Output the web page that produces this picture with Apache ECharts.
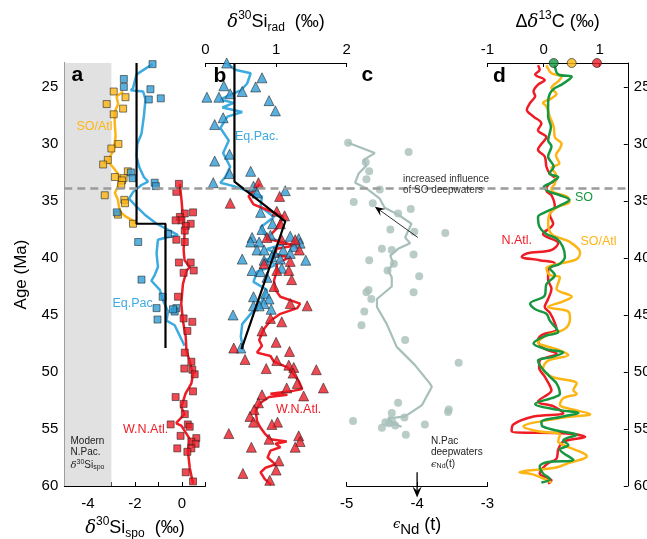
<!DOCTYPE html>
<html><head><meta charset="utf-8">
<script src="https://cdn.jsdelivr.net/npm/echarts@6/dist/echarts.min.js"></script>
<style>html,body{margin:0;padding:0;background:#fff}#c{width:647px;height:539px}</style>
</head><body><div id="c"></div>
<script>
// ---- tick values ----
const ageTicks = [25,30,35,40,45,50,55,60];
const spoTicks = [-5,-4,-3,-2,-1,0,1];
const spoLabels = [-4,-2,0];
const radTicks = [0,1,2];
const ndTicks = [-5,-4,-3];
const dcTicks = [-1,0,1];
const soLineAge = 33.85;
const modernBand = [-5,-3];

// ---- panel a : [age (Ma), d30Si_spo] ----
const aSoAtlPts = [[25.4,-2.9],[25.9,-2.4],[26.5,-3.2],[26.9,-2.5],[27.4,-2.9],[30.0,-2.7],[30.4,-3.0],[31.4,-3.15],[31.8,-3.35],[32.4,-2.3],[32.9,-2.85],[33.0,-2.48],[33.2,-2.55],[33.6,-2.58],[34.5,-3.28],[34.9,-2.45],[35.2,-2.42],[36.2,-2.72],[37.0,-2.08]];
const aSoAtlLine = [[25.4,-2.5],[25.85,-2.78],[26.5,-2.71],[27.2,-2.86],[28.1,-2.86],[29.3,-2.82],[30.5,-2.9],[31.1,-3.05],[31.6,-3.12],[32.0,-2.95],[32.4,-2.8],[32.9,-2.62],[33.3,-2.68],[33.7,-2.72],[34.3,-2.85],[34.9,-2.72],[35.5,-2.68],[36.0,-2.6],[36.4,-2.37],[36.7,-2.1],[37.0,-1.94]];
const aEqPacPts = [[23.0,-1.25],[24.3,-2.47],[25.0,-2.47],[25.2,-1.34],[26.0,-0.9],[26.1,-1.41],[32.5,-2.17],[33.0,-2.1],[33.4,-1.16],[33.7,-1.11],[36.0,-2.77],[37.9,-0.59],[38.6,-1.86],[41.9,-1.72],[43.4,-0.82],[44.4,-1.08],[45.4,-1.04],[44.4,-0.24],[44.7,-0.31],[44.5,-0.38]];
const aEqPacLine = [[23.0,-1.25],[23.9,-1.93],[25.1,-2.08],[25.3,-2.17],[25.4,-1.65],[26.1,-1.55],[27.6,-1.62],[29.1,-1.72],[30.0,-1.9],[31.1,-1.93],[32.0,-1.82],[32.9,-1.62],[33.3,-1.44],[33.6,-1.72],[34.2,-2.07],[34.8,-2.25],[35.5,-1.93],[36.2,-1.58],[37.0,-1.08],[37.6,-0.52],[38.0,-0.17],[38.2,-0.66],[38.4,-1.02],[39.6,-1.08],[40.8,-1.02],[41.5,-1.16],[42.0,-1.3],[42.8,-0.94],[43.7,-0.81],[44.7,-0.59],[45.5,-0.66],[45.9,-0.31],[47.7,0.11]];
const aWNAtlPts = [[33.5,-0.13],[34.2,-0.24],[36.0,0.47],[36.1,0.12],[36.4,-0.09],[36.7,-0.02],[36.7,-0.27],[37.0,0.37],[37.2,0.16],[37.6,0.12],[38.4,-0.24],[38.6,0.12],[40.4,-0.13],[40.4,0.37],[41.1,0.5],[41.3,0.07],[43.4,-0.17],[45.3,0.07],[45.6,0.44],[46.4,0.23],[48.3,0.12],[49.1,0.4],[49.7,0.1],[49.8,0.44],[50.2,0.54],[51.7,0.47],[52.2,-0.27],[52.8,0.07],[53.7,0.12],[54.6,-0.48],[54.6,0.25],[54.8,0.33],[55.6,-0.06],[55.8,0.61],[56.1,0.4],[56.3,0.58],[56.7,-0.2],[56.7,0.4],[57.0,0.23],[58.8,0.16],[59.6,0.47]];
const aWNAtlLine = [[33.5,-0.09],[34.9,-0.02],[36.4,0.04],[37.9,0.11],[39.3,0.07],[40.2,0.11],[40.8,0.33],[41.1,0.2],[42.3,0.04],[44.0,-0.03],[45.5,0.04],[46.9,0.16],[48.1,0.19],[49.3,0.36],[50.2,0.47],[51.0,0.4],[51.9,0.15],[53.1,-0.03],[53.7,0.11],[54.3,-0.17],[54.5,-0.24],[54.7,-0.03],[55.6,0.25],[55.9,0.33],[56.9,0.25],[58.4,0.33],[59.8,0.47]];
const aStep = [[22.9,-1.93],[37.0,-1.93],[37.0,-0.7],[47.9,-0.7]];

// ---- panel b : [age, d30Si_rad] ----
const bEqPacPts = [[22.9,0.3],[24.2,0.8],[24.9,0.26],[25.0,0.71],[25.4,0.52],[25.6,0.35],[25.9,0.02],[25.9,0.19],[26.2,0.9],[27.1,0.99],[27.7,0.25],[28.3,0.13],[30.9,0.34],[31.5,0.13],[32.4,0.64],[32.6,0.34],[33.4,0.11],[33.7,0.68],[34.1,1.13],[34.3,0.73],[36.0,0.78],[37.0,0.95],[37.5,0.8],[38.0,0.92],[38.1,1.2],[38.2,0.66],[38.3,1.32],[38.6,0.64],[38.6,0.76],[38.7,1.34],[39.0,1.25],[39.3,0.73],[39.3,0.83],[39.3,1.1],[39.5,0.97],[39.6,1.2],[39.9,0.94],[40.1,0.52],[40.1,1.06],[40.2,0.83],[40.2,1.42],[40.9,1.08],[41.1,0.66],[41.2,0.78],[41.7,0.87],[43.1,0.85],[43.4,0.68],[43.6,0.9],[44.0,0.83],[44.2,0.68],[44.2,0.76],[44.5,0.93],[45.0,0.39],[47.9,0.5]];
const bEqPacLine = [[22.9,0.3],[23.5,0.42],[23.8,0.64],[24.7,0.59],[25.3,0.5],[25.7,0.35],[26.1,0.21],[26.4,0.4],[26.8,0.24],[27.2,0.52],[27.6,0.31],[28.6,0.21],[29.7,0.33],[30.8,0.25],[32.0,0.35],[32.9,0.28],[33.4,0.21],[33.7,0.4],[34.0,0.54],[34.3,0.66],[34.6,0.8],[35.5,0.78],[36.4,0.97],[37.3,0.78],[38.2,0.87],[38.7,1.16],[39.2,0.87],[39.8,1.06],[40.2,0.83],[40.6,1.01],[41.2,0.73],[42.1,0.68],[42.8,0.87],[44.0,0.78],[44.9,0.64],[45.8,0.52],[46.9,0.5],[47.9,0.53]];
const bWNAtlPts = [[33.4,0.75],[34.6,1.05],[35.2,0.35],[35.9,1.01],[36.3,1.12],[37.0,1.06],[38.2,0.87],[38.4,1.08],[38.4,1.27],[39.3,1.33],[40.3,1.2],[40.5,0.83],[41.1,1.01],[41.1,1.18],[41.9,1.22],[42.5,0.97],[44.0,1.2],[44.2,1.44],[45.3,0.92],[45.6,1.08],[46.4,0.8],[47.4,1.0],[47.9,0.4],[48.2,1.19],[48.9,0.56],[49.0,1.01],[49.4,1.18],[49.6,1.25],[49.7,0.86],[49.8,1.57],[50.1,1.24],[51.0,1.3],[51.4,1.15],[51.4,1.67],[52.0,0.8],[52.1,1.39],[52.7,0.75],[53.3,0.69],[53.9,0.63],[54.4,0.68],[54.4,1.02],[54.6,0.94],[55.4,0.33],[55.6,1.32],[55.9,0.9],[56.1,1.34],[56.6,0.65],[56.6,1.27],[57.8,1.04],[58.6,1.0],[58.9,0.53],[59.5,0.91]];
const bWNAtlLine = [[33.5,0.77],[34.6,0.61],[35.3,0.68],[35.9,0.92],[36.4,1.1],[37.4,1.01],[38.3,0.87],[38.6,1.06],[38.9,1.27],[39.2,1.01],[39.8,0.97],[39.9,1.2],[40.5,1.01],[41.1,1.01],[42.0,0.97],[42.8,0.99],[43.4,1.06],[44.0,1.34],[44.4,1.3],[44.9,1.06],[45.5,0.92],[46.2,0.83],[47.2,0.76],[47.7,0.8],[48.3,0.73],[48.6,0.92],[49.1,0.97],[49.6,1.16],[50.2,1.25],[50.8,1.32],[51.5,1.37],[51.7,1.2],[51.9,0.92],[52.0,1.16],[52.2,0.9],[52.7,0.78],[53.4,0.71],[54.3,0.73],[54.9,0.78],[55.4,0.84],[55.9,0.92],[56.1,1.15],[56.3,0.99],[56.6,1.06],[56.9,0.92],[57.5,0.88],[58.1,0.99],[58.4,0.85],[58.8,0.78],[59.4,0.84],[59.9,0.93]];
const bStep = [[22.9,0.41],[33.3,0.41],[36.8,1.13],[48.0,0.51]];

// ---- panel c : [age, eNd(t)] ----
const cNdPts = [[29.9,-4.98],[30.7,-4.12],[31.6,-4.73],[32.4,-4.68],[33.1,-4.72],[34.0,-4.53],[35.1,-4.9],[35.2,-4.63],[35.7,-4.09],[36.1,-4.27],[37.5,-4.38],[37.7,-4.04],[37.8,-3.6],[39.2,-4.5],[39.3,-4.36],[39.7,-4.05],[40.2,-4.68],[40.5,-4.33],[41.1,-4.42],[41.6,-3.97],[42.8,-4.69],[43.0,-4.72],[43.0,-4.05],[43.6,-4.65],[44.7,-4.75],[45.9,-4.79],[47.2,-4.17],[49.2,-3.41],[52.7,-4.27],[53.3,-3.55],[53.5,-3.56],[53.6,-4.36],[54.0,-4.18],[54.3,-4.91],[54.4,-4.45],[54.5,-4.4],[54.4,-4.35],[54.7,-4.31],[54.6,-3.89],[54.9,-4.5],[55.5,-4.16]];
const cNdLine = [[29.9,-4.98],[30.8,-4.6],[31.4,-4.76],[31.9,-4.72],[32.6,-4.83],[33.4,-4.88],[33.9,-4.72],[34.8,-4.53],[35.6,-4.46],[36.2,-4.27],[37.0,-4.08],[38.2,-4.17],[38.7,-4.1],[39.2,-4.27],[39.8,-4.38],[40.5,-4.34],[41.1,-4.41],[41.7,-4.36],[42.5,-4.36],[43.6,-4.57],[44.3,-4.57],[45.8,-4.43],[47.8,-4.29],[49.4,-4.03],[51.0,-3.82],[51.3,-3.79],[52.9,-3.93],[53.9,-4.17],[54.0,-4.31],[54.0,-4.41],[54.4,-4.36],[54.7,-4.27],[54.8,-4.22]];
const cArrowSO = [[38.2,-3.99],[35.5,-4.6]];
const cArrowNPac = [[58.8,-4.0],[61.0,-4.0]];

// ---- panel d : [age, Delta d13C] ----
const dSO = [[23.1,0.2],[23.9,0.26],[24.1,0.5],[24.4,0.44],[24.8,0.32],[25.1,0.2],[25.6,0.11],[26.4,0.08],[27.6,0.08],[28.5,0.13],[29.7,0.08],[30.2,0.14],[31.1,0.08],[32.0,0.18],[32.6,0.1],[32.9,0.26],[33.4,0.13],[33.8,0.0],[34.2,0.11],[34.5,0.29],[34.9,0.46],[35.4,0.29],[36.0,0.02],[36.4,-0.1],[37.3,-0.07],[37.9,0.05],[38.3,0.23],[39.0,0.34],[39.9,0.38],[40.5,0.29],[40.9,0.11],[41.5,0.2],[42.3,0.05],[43.3,0.02],[44.0,-0.24],[44.5,-0.15],[44.9,0.05],[45.5,0.11],[46.5,0.26],[46.8,0.05],[47.5,-0.18],[48.0,0.05],[48.3,0.35],[48.7,0.14],[49.0,-0.1],[49.6,-0.04],[50.4,0.11],[51.0,0.23],[51.9,0.29],[52.2,0.2],[52.8,-0.15],[53.3,0.23],[53.6,0.62],[53.9,0.35],[54.4,-0.04],[54.8,-0.01],[55.2,0.29],[55.5,0.59],[56.0,0.35],[56.4,0.44],[56.8,0.29],[57.7,0.53],[57.9,0.08],[58.3,-0.07],[58.9,-0.01],[59.4,0.11],[59.7,-0.04]];
const dSOAtl = [[23.1,0.05],[23.8,0.14],[24.1,0.32],[24.5,0.26],[25.1,0.14],[25.6,0.23],[26.0,0.14],[26.4,-0.01],[26.7,0.05],[27.6,0.11],[28.5,0.18],[29.4,0.2],[30.0,0.32],[30.4,0.29],[31.0,0.22],[31.7,0.28],[32.1,0.14],[32.7,0.22],[33.5,0.2],[33.9,0.14],[34.3,0.2],[34.6,0.41],[35.1,0.46],[35.5,0.26],[36.1,0.11],[37.0,0.08],[37.9,0.14],[38.3,0.32],[38.6,0.47],[39.5,0.65],[40.1,0.59],[40.5,0.29],[40.9,0.05],[41.5,0.11],[41.7,0.29],[42.7,0.23],[43.4,0.5],[43.8,0.35],[44.3,0.08],[44.7,0.44],[45.3,0.47],[46.2,0.38],[46.8,0.05],[47.4,-0.1],[48.0,0.23],[48.5,0.44],[49.0,0.08],[49.7,-0.01],[50.4,0.14],[51.0,0.59],[51.6,0.53],[51.9,0.59],[52.3,0.35],[52.9,0.29],[53.2,0.44],[53.7,0.83],[54.0,0.35],[54.8,-0.36],[55.2,-0.1],[55.5,0.29],[56.1,0.26],[56.4,0.35],[57.4,0.77],[58.0,0.44],[58.4,0.2],[58.8,-0.43],[59.0,-0.18],[59.7,0.14]];
const dNAtl = [[23.1,-0.1],[23.5,-0.07],[23.9,-0.15],[24.4,0.02],[24.8,-0.1],[25.4,-0.18],[25.8,-0.15],[26.4,-0.24],[27.0,-0.3],[27.6,-0.18],[28.2,-0.04],[28.8,-0.1],[29.4,0.05],[30.0,-0.04],[30.5,-0.1],[31.1,0.02],[32.0,0.05],[32.6,0.11],[33.1,0.23],[33.6,0.08],[34.1,0.05],[34.5,0.14],[35.5,0.2],[36.2,0.11],[37.0,0.17],[37.9,-0.01],[38.7,0.26],[39.3,0.14],[39.6,-0.3],[39.9,-0.39],[40.2,-0.07],[40.5,0.2],[41.1,0.08],[41.9,0.08],[42.7,0.14],[43.6,0.08],[44.3,0.02],[44.8,0.11],[45.7,0.2],[46.3,0.23],[46.7,-0.01],[47.2,-0.1],[47.9,-0.01],[48.4,0.23],[49.0,-0.07],[49.6,-0.08],[50.4,0.02],[51.2,0.11],[51.6,0.14],[52.6,-0.1],[53.0,0.17],[53.6,0.35],[53.9,-0.18],[54.6,-0.54],[55.2,-0.57],[55.4,0.41],[55.7,0.74],[56.1,0.35],[56.8,0.26],[57.6,0.23],[58.0,0.08],[58.4,-0.01],[58.9,-0.07],[59.5,0.14],[59.8,0.08]];
const dModern = [[22.9,0.18],[22.9,0.5],[22.9,0.95]];

// ---- styling ----
const FF = 'Liberation Sans, Arial, Helvetica, sans-serif';
const COL = {orange:'#FDB515', blue:'#3DAAE0', blueFill:'#2F9CD6', red:'#EE1C25', green:'#17973F', teal:'#A7BFBA', band:'#E1E1E1', dash:'#9B9B9B'};
const AGE_MIN = 22.9, AGE_MAX = 60;
const sw = arr => arr.map(p => [p[1], p[0]]);

const richName = {
  n:{fontSize:18, lineHeight:24, fontFamily:FF, color:'#000'},
  d:{fontSize:18, lineHeight:24, fontFamily:'DejaVu Serif', fontStyle:'italic', color:'#000'},
  e:{fontSize:13, lineHeight:24, fontFamily:'DejaVu Serif', fontStyle:'italic', color:'#000'},
  sup:{fontSize:12, lineHeight:12, verticalAlign:'top', fontFamily:FF, color:'#000'},
  sub:{fontSize:12, lineHeight:10, verticalAlign:'bottom', fontFamily:FF, color:'#000'},
  subl:{fontSize:15, lineHeight:10, verticalAlign:'bottom', fontFamily:FF, color:'#000'}
};

function xAx(gi, min, max, pos, ticks, labels, name, gap, lblMargin) {
  return {
    gridIndex: gi, type:'value', min, max, position: pos,
    axisLine:{show:true, onZero:false, lineStyle:{color:'#000', width:1}},
    axisTick:{show:true, inside:true, length:4, customValues:ticks, lineStyle:{color:'#000', width:1}},
    axisLabel:{show:true, customValues:labels, color:'#000', fontSize:15, fontFamily:FF, margin:lblMargin},
    splitLine:{show:false},
    name, nameLocation:'middle', nameGap:gap,
    nameTextStyle:{rich:richName, fontFamily:FF, fontSize:18, color:'#000'}
  };
}
function yAx(gi, show, pos) {
  return {
    gridIndex: gi, type:'value', inverse:true, min:AGE_MIN, max:AGE_MAX, show, position:pos,
    axisLine:{show:true, onZero:false, lineStyle:{color:'#000', width:1}},
    axisTick:{show:true, inside:true, length:4, customValues:ageTicks, lineStyle:{color:'#000'}},
    axisLabel:{show:true, customValues:ageTicks, color:'#000', fontSize:15, fontFamily:FF, margin:6},
    splitLine:{show:false}
  };
}

const sqStyle = c => ({color:c, borderColor:'#1d1d1d', borderWidth:0.7});
function lineS(gi, data, color, width, extra) {
  return Object.assign({type:'line', xAxisIndex:gi, yAxisIndex:gi, data:sw(data), showSymbol:false, symbol:'none',
    lineStyle:{color, width}, silent:true, animation:false}, extra||{});
}
function ptsS(gi, data, symbol, size, color) {
  return {type:'scatter', xAxisIndex:gi, yAxisIndex:gi, data:sw(data), symbol, symbolSize:size,
    itemStyle:sqStyle(color), silent:true, animation:false, z:3};
}
function dashS(gi, extra) {
  return Object.assign({type:'line', xAxisIndex:gi, yAxisIndex:gi, data:[], silent:true, animation:false, z:1,
    markLine:{silent:true, symbol:'none', label:{show:false}, animation:false,
      lineStyle:{color:COL.dash, width:2.5, type:[8,5]}, data:[{yAxis:soLineAge}]}}, extra||{});
}

const chart = echarts.init(document.getElementById('c'), null, {renderer:'canvas'});
const gridBase = {top:63, height:423, outerBoundsMode:'none', containLabel:false};
const option = {
  animation:false,
  backgroundColor:'#fff',
  grid:[
    Object.assign({left:64.3, width:141.2}, gridBase),
    Object.assign({left:205.5, width:141.2}, gridBase),
    Object.assign({left:346.7, width:140.8}, gridBase),
    Object.assign({left:487.5, width:140.3}, gridBase)
  ],
  xAxis:[
    xAx(0, -5, 1, 'bottom', spoTicks, spoLabels, '{d|δ}{sup|30}{n|Si}{sub|spo}{n|  (‰)}', 27, 10),
    xAx(1, 0, 2, 'top', radTicks, radTicks, '{d|δ}{sup|30}{n|Si}{sub|rad}{n|  (‰)}', 29, 6),
    xAx(2, -5, -3, 'bottom', ndTicks, ndTicks, '{e|ϵ}{subl|Nd}{n| (t)}', 27, 10),
    xAx(3, -1, 1.5, 'top', dcTicks, dcTicks, '{n|Δ}{d|δ}{sup|13}{n|C (‰)}', 29, 6)
  ],
  yAxis:[
    Object.assign(yAx(0, true, 'left'), {name:'Age (Ma)', nameLocation:'middle', nameGap:34, nameTextStyle:{fontSize:17, fontFamily:FF, color:'#000'}}),
    yAx(1, false, 'left'),
    yAx(2, false, 'left'),
    yAx(3, true, 'right')
  ],
  series:[
    dashS(0, {z:0, markArea:{silent:true, itemStyle:{color:COL.band}, data:[[{xAxis:modernBand[0]},{xAxis:modernBand[1]}]]}}),
    dashS(1), dashS(2), dashS(3),
    // panel a
    lineS(0, aSoAtlLine, COL.orange, 2.5),
    lineS(0, aEqPacLine, COL.blue, 2.5),
    lineS(0, aWNAtlLine, COL.red, 2.5),
    lineS(0, aStep, '#000', 2.2, {z:4}),
    ptsS(0, aSoAtlPts, 'rect', 7, COL.orange),
    ptsS(0, aEqPacPts, 'rect', 7, COL.blueFill),
    ptsS(0, aWNAtlPts, 'rect', 7, COL.red),
    // panel b
    lineS(1, bEqPacLine, COL.blue, 2.5),
    lineS(1, bWNAtlLine, COL.red, 2.5),
    ptsS(1, bEqPacPts, 'triangle', 10, COL.blueFill),
    ptsS(1, bWNAtlPts, 'triangle', 10, COL.red),
    lineS(1, bStep, '#000', 2.2, {z:4}),
    // panel c
    lineS(2, cNdLine, COL.teal, 2.2),
    {type:'scatter', xAxisIndex:2, yAxisIndex:2, data:sw(cNdPts), symbol:'circle', symbolSize:8,
      itemStyle:{color:COL.teal}, silent:true, animation:false},
    // panel d
    lineS(3, dNAtl, COL.red, 2.5, {smooth:0.35}),
    lineS(3, dSOAtl, COL.orange, 2.5, {smooth:0.35}),
    lineS(3, dSO, COL.green, 2.5, {smooth:0.35}),
    {type:'scatter', xAxisIndex:3, yAxisIndex:3, clip:false, z:6, silent:true, animation:false,
      data:sw(dModern).map((p,i)=>({value:p, itemStyle:{color:[COL.green,COL.orange,COL.red][i], borderColor:'#222', borderWidth:0.8}})),
      symbol:'circle', symbolSize:9}
  ]
};
chart.setOption(option);

// ---- annotations (arrows computed via the axis scales) ----
function arrow(gi, pair, width, head) {
  const p1 = chart.convertToPixel({gridIndex:gi}, [pair[0][1], pair[0][0]]);
  const p2 = chart.convertToPixel({gridIndex:gi}, [pair[1][1], pair[1][0]]);
  const dx = p2[0]-p1[0], dy = p2[1]-p1[1], L = Math.hypot(dx,dy);
  const ux = dx/L, uy = dy/L, nx = -uy, ny = ux;
  const hl = head, hw = head*0.42, notch = head*0.6;
  const base = [p2[0]-ux*notch, p2[1]-uy*notch];
  return [
    {type:'line', shape:{x1:p1[0], y1:p1[1], x2:base[0], y2:base[1]}, style:{stroke:'#000', lineWidth:width}, z:50, silent:true},
    {type:'polygon', shape:{points:[[p2[0],p2[1]],[p2[0]-ux*hl+nx*hw, p2[1]-uy*hl+ny*hw], base, [p2[0]-ux*hl-nx*hw, p2[1]-uy*hl-ny*hw]]},
      style:{fill:'#000'}, z:50, silent:true}
  ];
}
function txt(text, x, y, size, color, opts) {
  return Object.assign({type:'text', z:60, silent:true, style:Object.assign({text, x, y, fill:color,
    font: (opts&&opts.bold?'bold ':'') + size + 'px ' + FF, textVerticalAlign:'middle', verticalAlign:'middle',
    textAlign:'left', align:'left'}, opts&&opts.style||{})});
}
const smallRich = {
  n:{fontSize:10, fontFamily:FF, fill:'#222', color:'#222', lineHeight:12},
  d:{fontSize:10, fontFamily:'DejaVu Serif', fontStyle:'italic', fill:'#222', color:'#222', lineHeight:12},
  sup:{fontSize:7, fontFamily:FF, fill:'#222', color:'#222', lineHeight:6, verticalAlign:'top'},
  sub:{fontSize:7, fontFamily:FF, fill:'#222', color:'#222', lineHeight:6, verticalAlign:'bottom'}
};
const graphics = [].concat(
  arrow(2, cArrowSO, 0.8, 10),
  arrow(2, cArrowNPac, 1.3, 11),
  [
    txt('a', 71.5, 75.5, 21, '#000', {bold:true}),
    txt('b', 213.5, 76.5, 21, '#000', {bold:true}),
    txt('c', 361.5, 75.5, 21, '#000', {bold:true}),
    txt('d', 493, 76, 21, '#000', {bold:true}),
    txt('SO/Atl', 76.5, 127, 12.5, COL.orange),
    txt('Eq.Pac.', 112.5, 304, 12.5, COL.blue),
    txt('Eq.Pac.', 235, 137, 12.5, COL.blue),
    txt('W.N.Atl.', 123, 429.5, 12.5, COL.red),
    txt('W.N.Atl.', 276, 409.5, 12.5, COL.red),
    txt('SO', 575, 197.5, 12.5, COL.green),
    txt('SO/Atl', 580.5, 241.5, 12.5, COL.orange),
    txt('N.Atl.', 501.5, 240.5, 12.5, COL.red),
    txt('Modern', 70.5, 441, 10, '#222'),
    txt('N.Pac.', 70.5, 452.5, 10, '#222'),
    {type:'text', z:60, silent:true, style:{text:'{d|δ}{sup|30}{n|Si}{sub|spo}', x:70.5, y:465, rich:smallRich,
      textVerticalAlign:'middle', verticalAlign:'middle', fill:'#222', font:'10px '+FF}},
    txt('increased influence', 403, 179, 10, '#333'),
    txt('of SO deepwaters', 403, 190, 10, '#333'),
    txt('N.Pac', 431, 441, 10, '#222'),
    txt('deepwaters', 431, 452, 10, '#222'),
    {type:'text', z:60, silent:true, style:{text:'{d|ϵ}{sub|Nd}{n|(t)}', x:431, y:464, rich:smallRich,
      textVerticalAlign:'middle', verticalAlign:'middle', fill:'#222', font:'10px '+FF}}
  ]
);
chart.setOption({graphic: graphics});
</script>
</body></html>
